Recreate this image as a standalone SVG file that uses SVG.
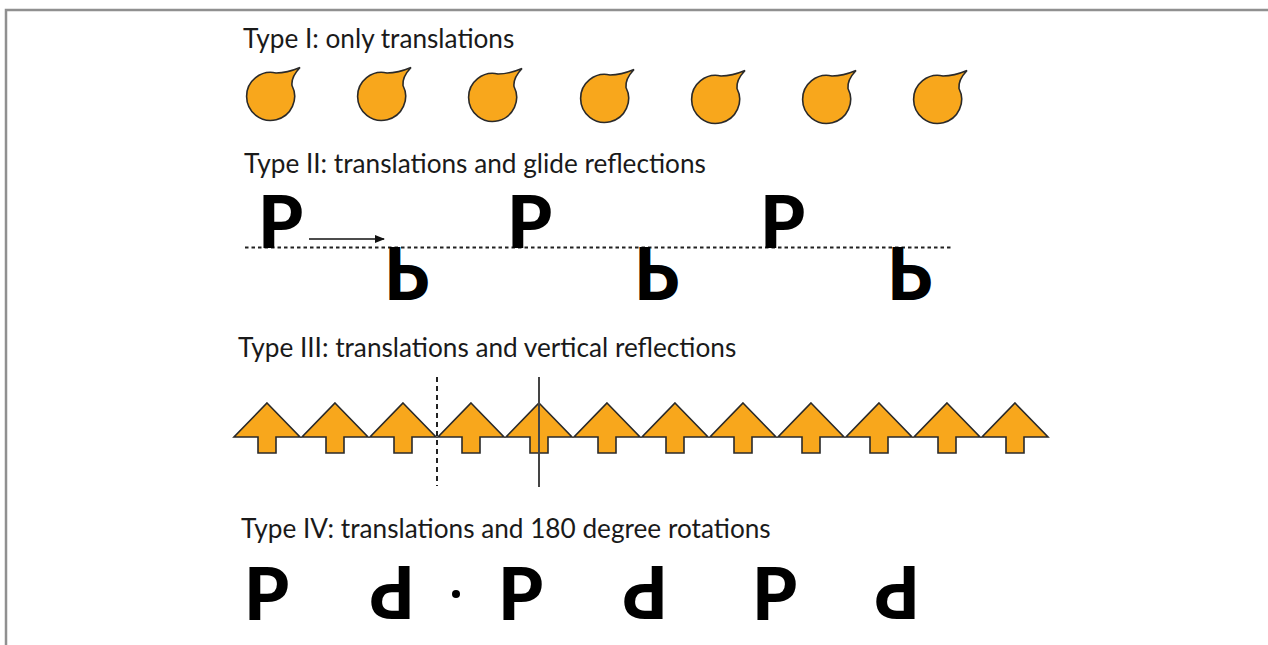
<svg xmlns="http://www.w3.org/2000/svg" width="1268" height="645" viewBox="0 0 1268 645">
<style>
.title{font-family:"Lato","Liberation Sans",sans-serif;font-size:26.2px;fill:#1a1a1a}
.big{font-family:"Lato","Liberation Sans",sans-serif;font-size:72px;font-weight:900;fill:#000}
.shape{fill:#F8A71C;stroke:#2a2a2a;stroke-width:1.6;stroke-linejoin:miter}
</style>
<defs>
<path id="drop" d="M7,-21 Q18,-21 31,-26.5 Q22,-17 23,-8.5 A24 24 0 1 1 7,-21 Z"/>
<path id="arr" d="M0,-17 L33,17 L9,17 L9,33 L-9,33 L-9,17 L-33,17 Z"/>
<marker id="ah" markerWidth="10" markerHeight="8" refX="9" refY="4" orient="auto" markerUnits="userSpaceOnUse">
<path d="M0,0 L10,4 L0,8 Z" fill="#111"/>
</marker>
</defs>
<rect width="1268" height="645" fill="#fff"/>
<path d="M6,645 V10 H1268" fill="none" stroke="#909090" stroke-width="2.5"/>

<g id="type1">
<text class="title" x="243" y="48">Type I: only translations</text>
<use href="#drop" class="shape" x="269" y="94"/>
<use href="#drop" class="shape" x="380" y="94"/>
<use href="#drop" class="shape" x="491" y="95"/>
<use href="#drop" class="shape" x="603" y="96"/>
<use href="#drop" class="shape" x="714" y="97"/>
<use href="#drop" class="shape" x="825" y="97"/>
<use href="#drop" class="shape" x="936" y="97"/>
</g>

<g id="type2">
<text class="title" x="244" y="173">Type II: translations and glide reflections</text>
<line x1="245" y1="247.5" x2="952" y2="247.5" stroke="#222" stroke-width="2" stroke-dasharray="3.5,3"/>
<line x1="309" y1="239" x2="384" y2="239" stroke="#111" stroke-width="1.5" marker-end="url(#ah)"/>
<text class="big" x="258" y="248">P</text>
<text class="big" x="507" y="248">P</text>
<text class="big" x="760" y="248">P</text>
<text class="big" transform="translate(384,247) scale(1,-1)">P</text>
<text class="big" transform="translate(634,247) scale(1,-1)">P</text>
<text class="big" transform="translate(887,247) scale(1,-1)">P</text>
</g>

<g id="type3">
<text class="title" x="238" y="357">Type III: translations and vertical reflections</text>
<use href="#arr" class="shape" x="267" y="420"/>
<use href="#arr" class="shape" x="335" y="420"/>
<use href="#arr" class="shape" x="403" y="420"/>
<use href="#arr" class="shape" x="471" y="420"/>
<use href="#arr" class="shape" x="539" y="420"/>
<use href="#arr" class="shape" x="607" y="420"/>
<use href="#arr" class="shape" x="675" y="420"/>
<use href="#arr" class="shape" x="743" y="420"/>
<use href="#arr" class="shape" x="811" y="420"/>
<use href="#arr" class="shape" x="879" y="420"/>
<use href="#arr" class="shape" x="947" y="420"/>
<use href="#arr" class="shape" x="1015" y="420"/>
<line x1="437" y1="377" x2="437" y2="486" stroke="#222" stroke-width="2" stroke-dasharray="5,4"/>
<line x1="539" y1="377" x2="539" y2="487" stroke="#444" stroke-width="2"/>
</g>

<g id="type4">
<text class="title" x="241" y="538">Type IV: translations and 180 degree rotations</text>
<text class="big" x="244" y="620">P</text>
<text class="big" x="498" y="620">P</text>
<text class="big" x="752" y="620">P</text>
<text class="big" transform="translate(415,566) rotate(180)">P</text>
<text class="big" transform="translate(668,566) rotate(180)">P</text>
<text class="big" transform="translate(920,566) rotate(180)">P</text>
<circle cx="456" cy="594" r="4" fill="#000"/>
</g>
</svg>
